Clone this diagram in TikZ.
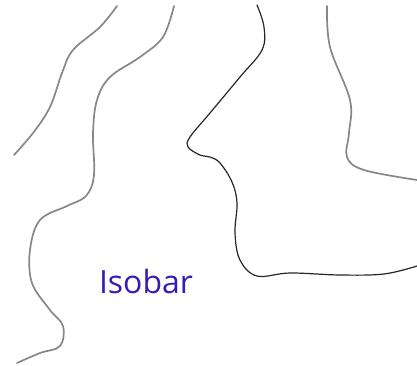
\documentclass[tikz,border=0pt]{standalone}
\usepackage{fontspec}
\setmainfont{Open Sans}
\definecolor{isogray}{RGB}{135,135,135}
\definecolor{isoblue}{RGB}{52,28,180}
\begin{document}
\begin{tikzpicture}[x=1pt,y=-1pt,
  grayline/.style={isogray,line width=1.7pt,line cap=round},
  blackline/.style={black!85,line width=1.2pt,line cap=round}]
\useasboundingbox (0,0) rectangle (417,366);
\draw[grayline] plot[smooth,tension=0.6] coordinates {(117,6) (100,27) (73,50) (62,73) (50,107) (33,133) (14,155)};
\draw[grayline] plot[smooth,tension=0.6] coordinates {(174,6) (163,37) (140,57) (110,77) (97,100) (93,133) (94,175) (86,196) (67,206) (40,220) (30,250) (32,283) (50,310) (63,326) (60,346) (40,353) (17,363)};
\draw[blackline] plot[smooth,tension=0.6] coordinates {(257,5) (264,27) (262,50) (240,77) (210,113) (190,137) (188,147) (200,155) (210,157) (220,163) (232,182) (237,203) (235,233) (240,260) (257,276) (290,273) (340,275) (384,274) (417,266)};
\draw[grayline] plot[smooth,tension=0.6] coordinates {(327,6) (330,47) (350,100) (349,133) (347,157) (364,170) (417,180)};
\node[isoblue,font=\fontsize{32}{38}\selectfont,inner sep=0pt,anchor=base] (label) at (146,293) {Isobar};
\end{tikzpicture}
\end{document}
